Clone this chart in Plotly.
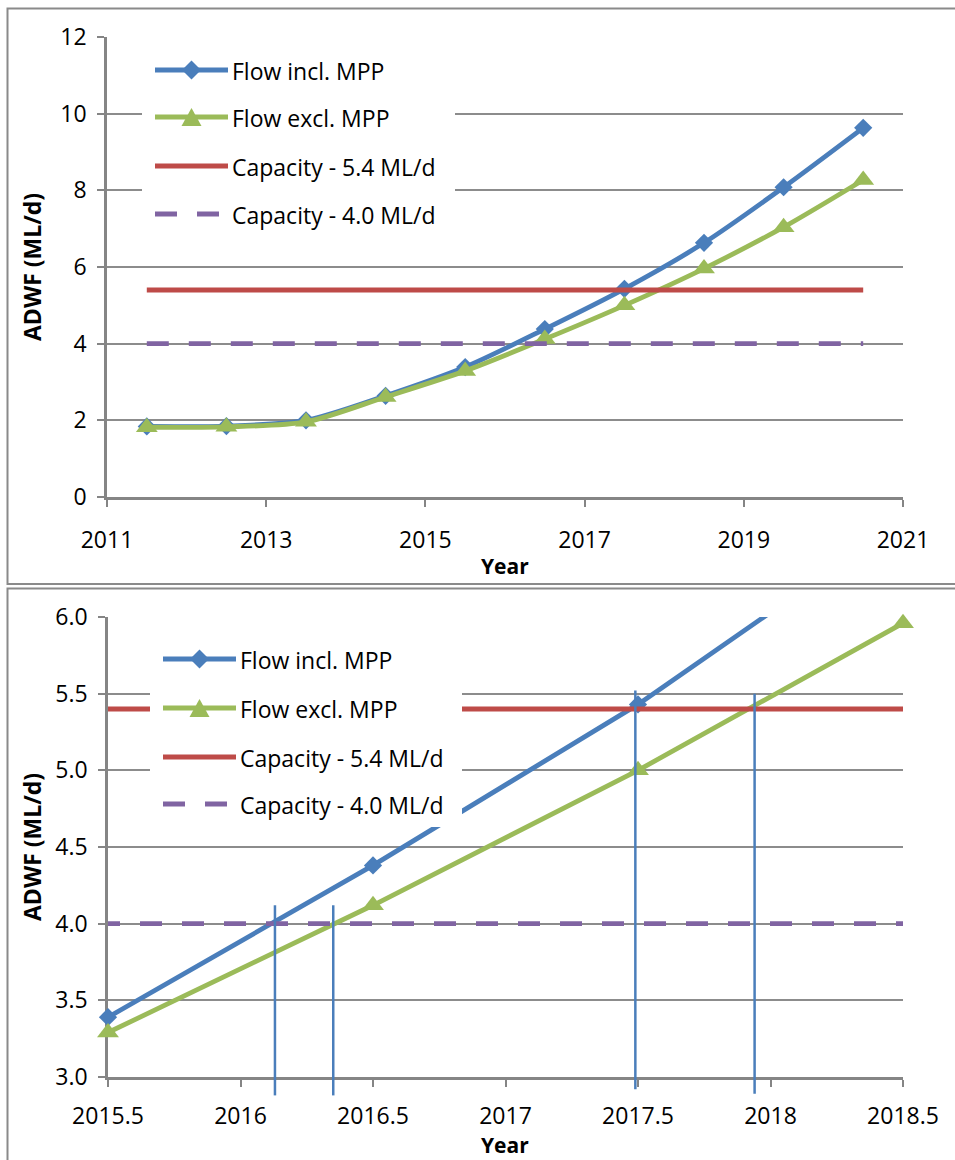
import plotly.graph_objects as go

# ---------------- data ----------------
years = [2011.5, 2012.5, 2013.5, 2014.5, 2015.5, 2016.5, 2017.5, 2018.5, 2019.5, 2020.5]
flow_incl = [1.84, 1.85, 2.00, 2.64, 3.39, 4.38, 5.43, 6.63, 8.08, 9.63]
flow_excl = [1.82, 1.83, 1.96, 2.61, 3.29, 4.12, 5.00, 5.96, 7.04, 8.27]
cap_54 = [5.4, 5.4, 5.4, 5.4, 5.4, 5.4, 5.4, 5.4, 5.4, 5.4]
cap_40 = [4.0, 4.0, 4.0, 4.0, 4.0, 4.0, 4.0, 4.0, 4.0, 4.0]
series_names = ["Flow incl. MPP", "Flow excl. MPP", "Capacity - 5.4 ML/d", "Capacity - 4.0 ML/d"]

top_x_ticks = [2011, 2013, 2015, 2017, 2019, 2021]
top_x_labels = ["2011", "2013", "2015", "2017", "2019", "2021"]
top_y_ticks = [0, 2, 4, 6, 8, 10, 12]
top_y_labels = ["0", "2", "4", "6", "8", "10", "12"]
bottom_x_ticks = [2015.5, 2016, 2016.5, 2017, 2017.5, 2018, 2018.5]
bottom_x_labels = ["2015.5", "2016", "2016.5", "2017", "2017.5", "2018", "2018.5"]
bottom_y_ticks = [3.0, 3.5, 4.0, 4.5, 5.0, 5.5, 6.0]
bottom_y_labels = ["3.0", "3.5", "4.0", "4.5", "5.0", "5.5", "6.0"]

# vertical marker lines on the zoomed chart (year, top value, bottom value)
crossing_years = [2016.13, 2016.35, 2017.49, 2017.94]
crossing_tops = [4.12, 4.12, 5.52, 5.50]
crossing_bottoms = [2.88, 2.88, 2.92, 2.89]

# ---------------- styles ----------------
W, H = 955, 1160
BLUE = "#4A7EBB"
GREEN = "#9BBB59"
RED = "#BE4B48"
PURPLE = "#8064A2"
GRID = "#8C8C8C"
AXIS = "#858585"
FONT = "Open Sans"
FS = 23
colors = [BLUE, GREEN, RED, PURPLE]
symbols = ["diamond", "triangle-up", None, None]
dashes = ["solid", "solid", "solid", "22px,20px"]


def px(x):
    return x / W


def py(y):
    return 1 - y / H


fig = go.Figure()

series = [flow_incl, flow_excl, cap_54, cap_40]

# top chart (smoothed lines)
for name, vals, c, s, d in zip(series_names, series, colors, symbols, dashes):
    fig.add_trace(go.Scatter(
        x=years, y=vals, name=name, xaxis="x", yaxis="y",
        mode="lines+markers" if s else "lines",
        line=dict(color=c, width=4.8, dash=d,
                  shape="spline" if s else "linear", smoothing=0.8),
        marker=dict(symbol=s, size=14 if s == "diamond" else 19, color=c) if s else None,
        cliponaxis=False, showlegend=False, hoverinfo="skip",
    ))

# bottom chart (zoomed)
for name, vals, c, s, d in zip(series_names, series, colors, symbols, dashes):
    fig.add_trace(go.Scatter(
        x=years, y=vals, name=name, xaxis="x2", yaxis="y2",
        mode="lines+markers" if s else "lines",
        line=dict(color=c, width=4.8, dash=d),
        marker=dict(symbol=s, size=14 if s == "diamond" else 19, color=c) if s else None,
        cliponaxis=False, showlegend=False, hoverinfo="skip",
    ))

tickfont = dict(family=FONT, size=FS, color="#000000")
common_x = dict(showgrid=False, showline=True, linecolor=AXIS, linewidth=2.5,
                ticks="outside", ticklen=7, tickwidth=2, tickcolor=AXIS,
                tickfont=tickfont, zeroline=False, layer="below traces",
                ticklabelstandoff=14, fixedrange=True, automargin=False,
                tickmode="array")
common_y = dict(showgrid=True, gridcolor=GRID, gridwidth=2, showline=True,
                linecolor=AXIS, linewidth=2.5, ticks="outside", ticklen=7,
                tickwidth=2, tickcolor=AXIS, tickfont=tickfont, zeroline=False,
                layer="below traces", ticklabelstandoff=6, fixedrange=True,
                automargin=False, tickmode="array")

fig.update_layout(
    template="none",
    width=W, height=H,
    margin=dict(l=0, r=0, t=0, b=0, autoexpand=False),
    paper_bgcolor="white", plot_bgcolor="white",
    font=dict(family=FONT, size=FS, color="#000000"),
    xaxis=dict(common_x, domain=[px(107), px(903)], range=[2011, 2021],
               tickvals=top_x_ticks, ticktext=top_x_labels, anchor="y"),
    yaxis=dict(common_y, domain=[py(497), py(37)], range=[0, 12],
               tickvals=top_y_ticks, ticktext=top_y_labels, anchor="x"),
    xaxis2=dict(common_x, domain=[px(108), px(903)], range=[2015.5, 2018.5],
                tickvals=bottom_x_ticks, ticktext=bottom_x_labels, anchor="y2",
                ticklabelstandoff=10),
    yaxis2=dict(common_y, domain=[py(1077), py(617)], range=[3, 6],
                tickvals=bottom_y_ticks, ticktext=bottom_y_labels, anchor="x2"),
    showlegend=False,
)

shapes = []
annotations = []

# panel borders
shapes.append(dict(type="rect", xref="paper", yref="paper", x0=px(7.5), x1=px(975),
                   y0=py(584), y1=py(8.5), line=dict(color="#8A8A8A", width=2), layer="above"))
shapes.append(dict(type="rect", xref="paper", yref="paper", x0=px(7.5), x1=px(975),
                   y0=py(1185), y1=py(588.5), line=dict(color="#8A8A8A", width=2), layer="above"))

# vertical marker lines (drawn through the library's x2 scale, y in y2-domain units)
ymin, ymax = 3.0, 6.0
for xv, top, bot in zip(crossing_years, crossing_tops, crossing_bottoms):
    shapes.append(dict(type="line", xref="x2", yref="y2 domain",
                       x0=xv, x1=xv,
                       y0=(bot - ymin) / (ymax - ymin), y1=(top - ymin) / (ymax - ymin),
                       line=dict(color=BLUE, width=2.5), layer="above"))


# manual legends
def add_legend(box, rows, lx0, lx1, tx):
    bx0, by0, bx1, by1 = box
    shapes.append(dict(type="rect", xref="paper", yref="paper",
                       x0=px(bx0), x1=px(bx1), y0=py(by1), y1=py(by0),
                       fillcolor="white", line=dict(width=0), layer="above"))
    mx = (lx0 + lx1) / 2
    for name, c, s, d, ry in zip(series_names, colors, symbols, dashes, rows):
        shapes.append(dict(type="line", xref="paper", yref="paper",
                           x0=px(lx0), x1=px(lx1), y0=py(ry), y1=py(ry),
                           line=dict(color=c, width=4.8, dash=d), layer="above"))
        if s == "diamond":
            r = 9.5
            path = (f"M{px(mx - r)},{py(ry)} L{px(mx)},{py(ry - r)} "
                    f"L{px(mx + r)},{py(ry)} L{px(mx)},{py(ry + r)} Z")
            shapes.append(dict(type="path", xref="paper", yref="paper", path=path,
                               fillcolor=c, line=dict(width=0), layer="above"))
        elif s == "triangle-up":
            path = (f"M{px(mx - 10)},{py(ry + 9)} L{px(mx)},{py(ry - 9)} "
                    f"L{px(mx + 10)},{py(ry + 9)} Z")
            shapes.append(dict(type="path", xref="paper", yref="paper", path=path,
                               fillcolor=c, line=dict(width=0), layer="above"))
        annotations.append(dict(xref="paper", yref="paper", x=px(tx), y=py(ry + 1),
                                text=name, showarrow=False, xanchor="left",
                                yanchor="middle", font=dict(family=FONT, size=FS)))


add_legend((142, 44, 455, 242), [70, 117, 166, 214], 155, 228, 230)
add_legend((150, 632, 462, 827), [659, 708, 757, 804], 163, 236, 238)

# axis titles
for yc in (267, 847):
    annotations.append(dict(xref="paper", yref="paper", x=px(32), y=py(yc),
                            text="<b>ADWF (ML/d)</b>", showarrow=False, textangle=-90,
                            xanchor="center", yanchor="middle",
                            font=dict(family=FONT, size=23)))
annotations.append(dict(xref="paper", yref="paper", x=px(505), y=py(566),
                        text="<b>Year</b>", showarrow=False,
                        xanchor="center", yanchor="middle",
                        font=dict(family=FONT, size=21)))
annotations.append(dict(xref="paper", yref="paper", x=px(505), y=py(1160),
                        text="<b>Year</b>", showarrow=False,
                        xanchor="center", yanchor="bottom", borderpad=0,
                        font=dict(family=FONT, size=21)))

fig.update_layout(shapes=shapes, annotations=annotations)
fig.write_html("out.html")
